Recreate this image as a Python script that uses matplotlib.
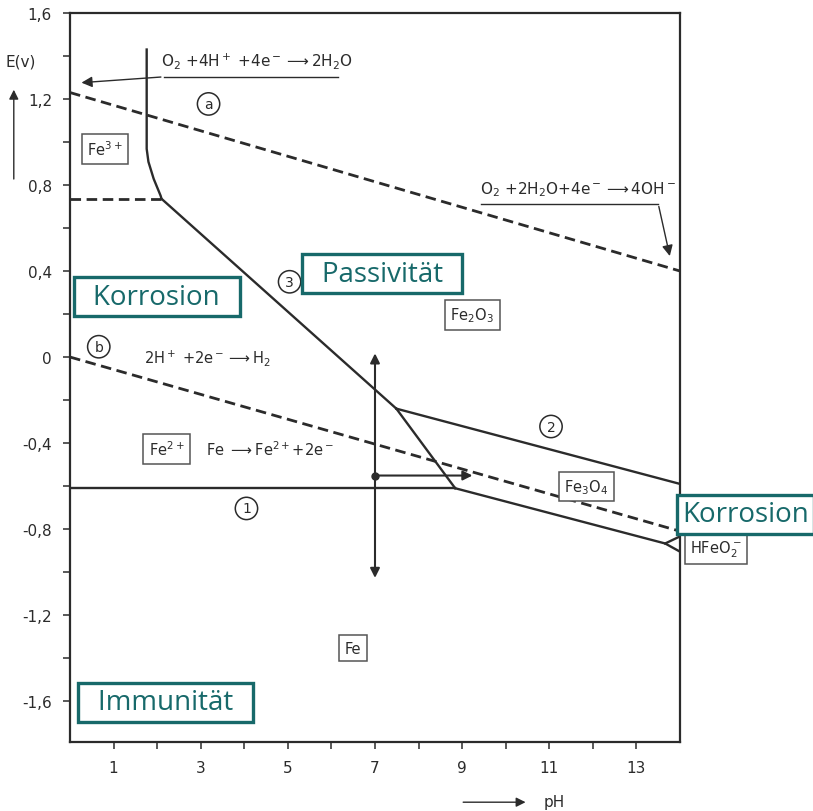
import matplotlib
matplotlib.use("Agg")
import matplotlib.pyplot as plt
from matplotlib.ticker import MultipleLocator, FixedLocator

# --- data (pH, E in V) ---
ph_ticks = [1, 3, 5, 7, 9, 11, 13]
e_ticks = [1.6, 1.2, 0.8, 0.4, 0.0, -0.4, -0.8, -1.2, -1.6]
e_labels = ["1,6", "1,2", "0,8", "0,4", "0", "-0,4", "-0,8", "-1,2", "-1,6"]

# water lines (dashed)
o2_ph = [0, 14]
o2_e = [1.23, 0.40]
h2_ph = [0, 14]
h2_e = [0.0, -0.81]
fe3_dash_ph = [0, 2.10]
fe3_dash_e = [0.736, 0.736]

# Fe3+/Fe2O3 boundary with its bend
fe3_ph = [1.76, 1.76, 1.80, 1.92, 2.08, 2.10]
fe3_e = [1.43, 0.968, 0.908, 0.829, 0.750, 0.736]
# line 3: Fe2+/Fe2O3
l3_ph = [2.10, 7.49]
l3_e = [0.736, -0.24]
# Fe2+/Fe3O4
fe2_fe3o4_ph = [7.49, 8.84]
fe2_fe3o4_e = [-0.24, -0.61]
# line 2: Fe3O4/Fe2O3
l2_ph = [7.49, 14]
l2_e = [-0.24, -0.59]
# line 1: Fe/Fe2+
l1_ph = [0, 8.84]
l1_e = [-0.61, -0.61]
# Fe/Fe3O4 and HFeO2- wedge
fe_ph = [8.84, 13.66, 14]
fe_e = [-0.61, -0.867, -0.905]
hfeo2_ph = [13.66, 14]
hfeo2_e = [-0.867, -0.834]

teal = "#17696a"
ink = "#2b2b2b"

fig = plt.figure(figsize=(8.13, 8.12), dpi=100)
ax = fig.add_axes([0.0861, 0.085, 0.7503, 0.8978])
ax.set_xlim(0, 14)
ax.set_ylim(-1.79, 1.6)

dash = dict(color=ink, lw=2.0, dashes=(3.8, 2.0))
solid = dict(color=ink, lw=1.7)

ax.plot(o2_ph, o2_e, **dash)
ax.plot(h2_ph, h2_e, **dash)
ax.plot(fe3_dash_ph, fe3_dash_e, **dash)
ax.plot(fe3_ph, fe3_e, **solid)
ax.plot(l3_ph, l3_e, **solid)
ax.plot(fe2_fe3o4_ph, fe2_fe3o4_e, **solid)
ax.plot(l2_ph, l2_e, **solid)
ax.plot(l1_ph, l1_e, **solid)
ax.plot(fe_ph, fe_e, **solid)
ax.plot(hfeo2_ph, hfeo2_e, **solid)

# pH 7 arrows
arr = dict(arrowstyle="-|>", color=ink, lw=1.5, mutation_scale=14)
ax.annotate("", xy=(7, 0.03), xytext=(7, -0.551), arrowprops=arr)
ax.annotate("", xy=(7, -1.04), xytext=(7, -0.551), arrowprops=arr)
ax.annotate("", xy=(9.3, -0.551), xytext=(7, -0.551), arrowprops=arr)
ax.plot([7], [-0.551], "o", color=ink, ms=5)

# axes styling
for s in ax.spines.values():
    s.set_linewidth(1.6)
    s.set_color(ink)
ax.xaxis.set_major_locator(FixedLocator(ph_ticks))
ax.xaxis.set_minor_locator(FixedLocator([2, 4, 6, 8, 10, 12]))
ax.set_xticklabels([str(t) for t in ph_ticks])
ax.yaxis.set_major_locator(FixedLocator(e_ticks))
ax.yaxis.set_minor_locator(MultipleLocator(0.2))
ax.set_yticklabels(e_labels)
ax.tick_params(which="both", direction="out", length=5, width=1.1, color=ink,
               labelsize=11, labelcolor=ink, pad=8)

# axis labels with arrows
ax.text(-1.13, 1.377, "E(v)", fontsize=11, color=ink, ha="center", va="center")
ax.annotate("", xy=(-1.29, 1.256), xytext=(-1.29, 0.815), xycoords="data",
            arrowprops=dict(arrowstyle="-|>", color=ink, lw=1.0, mutation_scale=14),
            annotation_clip=False)
ax.text(10.86, -2.066, "pH", fontsize=11, color=ink, ha="left", va="center")
ax.annotate("", xy=(10.52, -2.07), xytext=(8.96, -2.07),
            arrowprops=dict(arrowstyle="-|>", color=ink, lw=1.0, mutation_scale=14),
            annotation_clip=False)

# reaction labels
ax.text(2.08, 1.38, r"O$_2$ +4H$^+$ +4e$^-$$\longrightarrow$2H$_2$O", fontsize=11,
        color=ink, ha="left", va="center")
ax.plot([6.16, 2.15], [1.303, 1.303], color=ink, lw=1.0)
ax.annotate("", xy=(0.2, 1.275), xytext=(2.15, 1.303),
            arrowprops=dict(arrowstyle="-|>", color=ink, lw=1.0, mutation_scale=16))
ax.text(9.42, 0.782, r"O$_2$ +2H$_2$O+4e$^-$$\longrightarrow$4OH$^-$", fontsize=11,
        color=ink, ha="left", va="center")
ax.plot([9.44, 13.5], [0.713, 0.713], color=ink, lw=1.0)
ax.annotate("", xy=(13.78, 0.457), xytext=(13.5, 0.713),
            arrowprops=dict(arrowstyle="-|>", color=ink, lw=1.0, mutation_scale=16))
ax.text(1.69, 0.0, r"2H$^+$ +2e$^-$$\longrightarrow$H$_2$", fontsize=10.5,
        color=ink, ha="left", va="center")
ax.text(3.13, -0.426, r"Fe $\longrightarrow$Fe$^{2+}$+2e$^-$", fontsize=10.5,
        color=ink, ha="left", va="center")

# circled numbers / letters
circ = dict(boxstyle="circle,pad=0.3", fc="white", ec=ink, lw=1.1)
for x, y, s in [(3.18, 1.177, "a"), (5.04, 0.350, "3"), (0.66, 0.048, "b"),
                (11.04, -0.323, "2"), (4.05, -0.704, "1")]:
    ax.text(x, y, s, fontsize=10, color=ink, ha="center", va="center", bbox=circ)

# species boxes
sq = dict(boxstyle="square,pad=0.38", fc="white", ec="#555555", lw=1.1)
for x, y, s in [(0.80, 0.968, r"Fe$^{3+}$"), (9.23, 0.197, r"Fe$_2$O$_3$"),
                (2.22, -0.426, r"Fe$^{2+}$"), (11.85, -0.602, r"Fe$_3$O$_4$"),
                (14.83, -0.890, r"HFeO$_2^-$"), (6.50, -1.355, "Fe")]:
    ax.text(x, y, s, fontsize=10.5, color=ink, ha="center", va="center", bbox=sq,
            clip_on=False)

# teal region labels (en spaces widen the boxes sideways)
tb = dict(boxstyle="square,pad=0.2", fc="white", ec=teal, lw=2.4)
sp = "\u2002"
for x, y, s in [(1.99, 0.281, "Korrosion"),
                (7.17, 0.387, "Passivität"),
                (2.19, -1.606, "Immunität")]:
    ax.text(x, y, sp + s + sp, fontsize=20, color=teal,
            family=["Open Sans", "DejaVu Sans"], ha="center", va="center", bbox=tb)
ax.text(14.05, -0.732, "Korrosion", fontsize=20, color=teal,
        family=["Open Sans", "DejaVu Sans"], ha="left", va="center",
        bbox=dict(boxstyle="square,pad=0.2", fc="white", ec=teal, lw=2.4))

fig.savefig("out.png", dpi=100)
